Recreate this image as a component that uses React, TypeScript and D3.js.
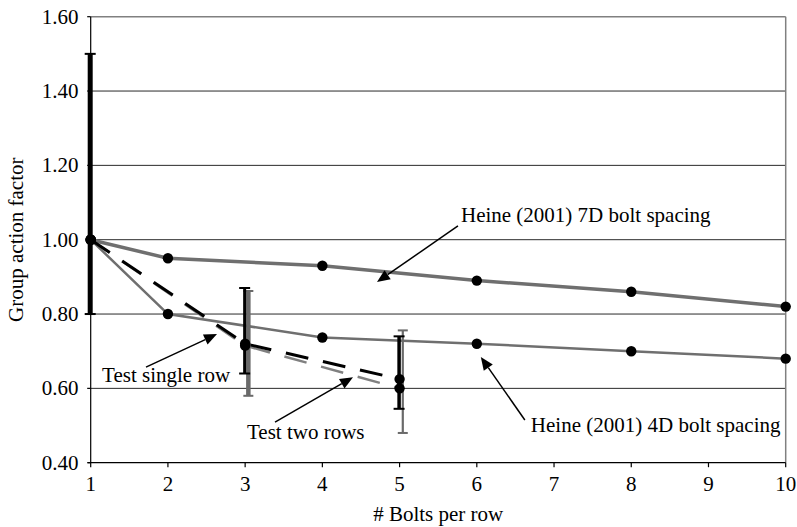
import React from "react";
import * as d3 from "d3";

const heineX = [1, 2, 4, 6, 8, 10];
const heine7D = [1.0, 0.95, 0.93, 0.89, 0.86, 0.82];
const heine4D = [1.0, 0.8, 0.737, 0.72, 0.7, 0.68];

const testX = [1, 3, 5];
const singleRow = [1.0, 0.72, 0.625];
const twoRows = [1.0, 0.715, 0.6];
const singleRowLow = [0.8, 0.64, 0.545];
const singleRowHigh = [1.5, 0.87, 0.74];
const twoRowsLow: (number | null)[] = [null, 0.58, 0.48];
const twoRowsHigh: (number | null)[] = [null, 0.862, 0.756];

const xTicks = [1, 2, 3, 4, 5, 6, 7, 8, 9, 10];
const yTicks = [0.4, 0.6, 0.8, 1.0, 1.2, 1.4, 1.6];

const annotationLabels = [
  "Heine (2001) 7D bolt spacing",
  "Heine (2001) 4D bolt spacing",
  "Test single row",
  "Test two rows",
];
// label anchor (data coords), arrow tail, arrow tip
const annotationText: [number, number][] = [
  [5.795, 1.048],
  [6.7, 0.4826],
  [1.147, 0.617],
  [3.024, 0.4637],
];
const annotationTail: [number, number][] = [
  [5.756, 1.037],
  [6.622, 0.515],
  [1.716, 0.657],
  [3.387, 0.509],
];
const annotationTip: [number, number][] = [
  [4.707, 0.886],
  [6.052, 0.6845],
  [2.636, 0.746],
  [4.397, 0.63],
];

const W = 797;
const H = 527;
const left = 90.7;
const right = 785.7;
const top = 16.7;
const bottom = 462.7;
const FONT = '"Liberation Serif", "Times New Roman", Times, serif';
const GRAY = "#6f6f6f";

export default function App() {
  const x = d3.scaleLinear().domain([1, 10]).range([left, right]);
  const y = d3.scaleLinear().domain([0.4, 1.6]).range([bottom, top]);

  const line = d3
    .line<[number, number]>()
    .x((d) => x(d[0]))
    .y((d) => y(d[1]));

  const h7 = heineX.map((v, i) => [v, heine7D[i]] as [number, number]);
  const h4 = heineX.map((v, i) => [v, heine4D[i]] as [number, number]);
  const sr = testX.map((v, i) => [v, singleRow[i]] as [number, number]);
  const tr = testX.map((v, i) => [v, twoRows[i]] as [number, number]);

  const blackBarW = [5, 3, 3.5];
  const grayBarW = [0, 4.5, 2.2];

  const textStyle: React.CSSProperties = { fontFamily: FONT, fontSize: "21px" };

  const arrowHead = (tail: [number, number], tip: [number, number]) => {
    const tx = x(tip[0]);
    const ty = y(tip[1]);
    const sx = x(tail[0]);
    const sy = y(tail[1]);
    const dx = tx - sx;
    const dy = ty - sy;
    const len = Math.hypot(dx, dy);
    const ux = dx / len;
    const uy = dy / len;
    const L = 13;
    const hw = 5.5;
    const bx = tx - ux * L;
    const by = ty - uy * L;
    const p1 = [bx - uy * hw, by + ux * hw];
    const p2 = [bx + uy * hw, by - ux * hw];
    return {
      poly: `${tx},${ty} ${p1[0]},${p1[1]} ${p2[0]},${p2[1]}`,
      lineEnd: [bx, by],
    };
  };

  return (
    <svg
      width={W}
      height={H}
      style={{ position: "absolute", left: 0, top: 0, background: "#fff", fontFamily: FONT }}
    >
      <rect x={0} y={0} width={W} height={H} fill="#fff" />
      {/* gridlines */}
      {yTicks.slice(1, -1).map((t) => (
        <line key={t} x1={left} x2={right} y1={y(t)} y2={y(t)} stroke="#2a2a2a" strokeWidth={1} />
      ))}
      {/* top and right border */}
      <line x1={left} x2={right} y1={top} y2={top} stroke="#808080" strokeWidth={1.5} />
      <line x1={right} x2={right} y1={top} y2={bottom} stroke="#808080" strokeWidth={1.5} />

      {/* Heine lines */}
      <path d={line(h7) || ""} fill="none" stroke={GRAY} strokeWidth={3.5} />
      <path d={line(h4) || ""} fill="none" stroke={GRAY} strokeWidth={2.5} />

      {/* test lines */}
      <path d={line(tr) || ""} fill="none" stroke="#808080" strokeWidth={2.5} strokeDasharray="23,15" />
      <path d={line(sr) || ""} fill="none" stroke="#000" strokeWidth={3} strokeDasharray="23,15" />

      {/* error bars: two rows (gray) */}
      {testX.map((v, i) => {
        const lo = twoRowsLow[i];
        const hi = twoRowsHigh[i];
        if (lo == null || hi == null) return null;
        const cx = x(v) + 3.2;
        return (
          <g key={"tr" + i} stroke="#6a6a6a">
            <line x1={cx} x2={cx} y1={y(hi)} y2={y(lo)} strokeWidth={grayBarW[i]} />
            <line x1={cx - 5} x2={cx + 5} y1={y(hi)} y2={y(hi)} strokeWidth={2} />
            <line x1={cx - 5} x2={cx + 5} y1={y(lo)} y2={y(lo)} strokeWidth={2} />
          </g>
        );
      })}
      {/* error bars: single row (black) */}
      {testX.map((v, i) => {
        const cx = x(v) - 0.5;
        const hi = singleRowHigh[i];
        const lo = singleRowLow[i];
        return (
          <g key={"sr" + i} stroke="#000">
            <line x1={cx} x2={cx} y1={y(hi)} y2={y(lo)} strokeWidth={blackBarW[i]} />
            <line x1={cx - 5.5} x2={cx + 5.5} y1={y(hi)} y2={y(hi)} strokeWidth={2} />
            <line x1={cx - 5.5} x2={cx + 5.5} y1={y(lo)} y2={y(lo)} strokeWidth={2} />
          </g>
        );
      })}

      {/* dots */}
      {[...h7, ...h4, ...sr, ...tr].map((d, i) => (
        <circle key={"c" + i} cx={x(d[0])} cy={y(d[1])} r={5.2} fill="#000" />
      ))}

      {/* axes */}
      <line x1={left} x2={left} y1={top} y2={bottom} stroke="#000" strokeWidth={1.2} />
      <line x1={left - 3} x2={right} y1={bottom} y2={bottom} stroke="#000" strokeWidth={1.2} />
      {yTicks.map((t) => (
        <g key={"yt" + t}>
          <line x1={left - 3.5} x2={left} y1={y(t)} y2={y(t)} stroke="#000" strokeWidth={1.2} />
          <text x={78.5} y={y(t) + 6.8} textAnchor="end" style={textStyle} fill="#000">
            {d3.format(".2f")(t)}
          </text>
        </g>
      ))}
      {xTicks.map((t) => (
        <g key={"xt" + t}>
          <line x1={x(t)} x2={x(t)} y1={bottom} y2={bottom + 4.5} stroke="#000" strokeWidth={1.2} />
          <text x={x(t)} y={490.7} textAnchor="middle" style={textStyle} fill="#000">
            {t}
          </text>
        </g>
      ))}
      <text x={(left + right) / 2} y={521} textAnchor="middle" style={textStyle} fill="#000">
        # Bolts per row
      </text>
      <text
        transform={`translate(22.5,${(top + bottom) / 2}) rotate(-90)`}
        textAnchor="middle"
        style={textStyle}
        fill="#000"
      >
        Group action factor
      </text>

      {/* annotations */}
      {annotationLabels.map((lab, i) => {
        const ah = arrowHead(annotationTail[i], annotationTip[i]);
        return (
          <g key={"a" + i}>
            <line
              x1={x(annotationTail[i][0])}
              y1={y(annotationTail[i][1])}
              x2={ah.lineEnd[0]}
              y2={ah.lineEnd[1]}
              stroke="#000"
              strokeWidth={1.5}
            />
            <polygon points={ah.poly} fill="#000" />
            <text x={x(annotationText[i][0])} y={y(annotationText[i][1])} style={textStyle} fill="#000">
              {lab}
            </text>
          </g>
        );
      })}
    </svg>
  );
}
